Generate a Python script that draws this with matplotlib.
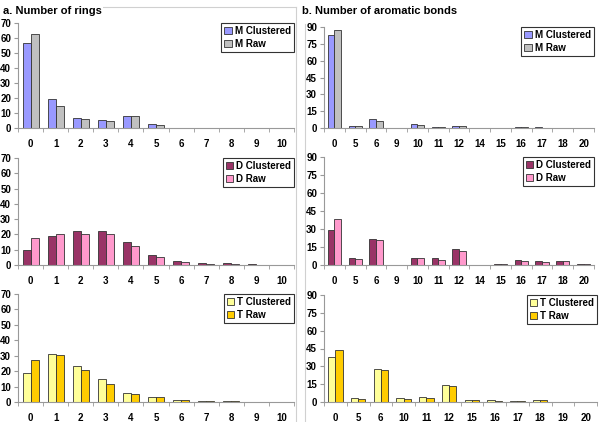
import numpy as np
import matplotlib
matplotlib.use("Agg")
import matplotlib.pyplot as plt

plt.rcParams['font.family'] = ['Liberation Sans', 'DejaVu Sans']

# a. number of rings
ring_cats = ['0', '1', '2', '3', '4', '5', '6', '7', '8', '9', '10']
m_ring_clu = [57, 19.3, 7, 5.6, 7.8, 2.7, 0.3, 0.3, 0, 0, 0]
m_ring_raw = [63, 15, 5.8, 5, 7.8, 2.3, 0.3, 0.3, 0, 0, 0]
d_ring_clu = [10, 19, 22, 22.3, 15, 6.5, 2.3, 1.2, 1.2, 0.5, 0]
d_ring_raw = [17.5, 20.5, 20, 20, 12.5, 5.5, 2, 0.8, 0.8, 0.3, 0]
t_ring_clu = [18.8, 30.9, 23.5, 14.9, 6, 3.5, 1.3, 0.5, 0.5, 0, 0]
t_ring_raw = [27.4, 30.5, 21, 11.7, 5, 3.2, 1.3, 0.5, 0.5, 0, 0]

# b. number of aromatic bonds
arom_cats_md = ['0', '5', '6', '9', '10', '11', '12', '14', '15', '16', '17', '18', '20']
arom_cats_t = ['0', '5', '6', '10', '11', '12', '15', '16', '17', '18', '19', '20']
m_arom_clu = [83, 2, 8, 0, 4, 0.7, 1.5, 0, 0, 0.5, 0.5, 0, 0]
m_arom_raw = [87, 1.5, 6, 0, 3, 0.7, 1.5, 0, 0, 0.5, 0.3, 0, 0]
d_arom_clu = [29.5, 6, 22, 0, 6, 5.5, 13.5, 0, 1, 4.5, 3.5, 3.5, 0.5]
d_arom_raw = [38.5, 5, 21, 0, 6, 4.5, 11.5, 0, 0.7, 3.5, 2.5, 3, 0.5]
t_arom_clu = [38, 3.5, 27.5, 3.5, 4.5, 14.5, 1.5, 1.5, 1, 2, 0, 0]
t_arom_raw = [43.5, 2.5, 26.5, 2.5, 3.5, 13.5, 1.5, 1, 1, 1.5, 0, 0]

W, H = 600, 422
fig = plt.figure(figsize=(6, 4.22), dpi=100)

def rect(x0, y0, x1, y1):
    return [x0 / W, 1 - y1 / H, (x1 - x0) / W, (y1 - y0) / H]

def panel(box, cats, clu, raw, names, colors, ymax, ystep):
    ax = fig.add_axes(rect(*box))
    x = np.arange(len(cats))
    w = 0.32
    ax.bar(x - w / 2, clu, w, color=colors[0], edgecolor='#333333', linewidth=0.6, label=names[0])
    ax.bar(x + w / 2, raw, w, color=colors[1], edgecolor='#333333', linewidth=0.6, label=names[1])
    ax.set_xlim(-0.5, len(cats) - 0.5)
    ax.set_ylim(0, ymax)
    ax.set_yticks(np.arange(0, ymax + 1, ystep))
    ax.set_xticks(x)
    ax.set_xticklabels(cats)
    ax.set_xticks(np.arange(-0.5, len(cats), 1), minor=True)
    ax.tick_params(axis='x', which='major', length=0, pad=8)
    ax.tick_params(axis='x', which='minor', length=3, color='#999999', direction='out')
    ax.tick_params(axis='y', length=3, color='#999999', pad=2)
    for lab in ax.get_xticklabels() + ax.get_yticklabels():
        lab.set_fontsize(7)
        lab.set_fontweight('bold')
    for s in ['top', 'right']:
        ax.spines[s].set_visible(False)
    for s in ['left', 'bottom']:
        ax.spines[s].set_color('#999999')
        ax.spines[s].set_linewidth(0.8)
    leg = ax.legend(loc='upper right', bbox_to_anchor=(1.0, 1.0), fancybox=False,
                    prop={'size': 7, 'weight': 'bold'}, handlelength=0.8, handleheight=0.8,
                    handletextpad=0.3, borderpad=0.3, labelspacing=0.3, borderaxespad=0)
    leg.get_frame().set_edgecolor('black')
    leg.get_frame().set_linewidth(0.8)
    return ax

panel((18, 23, 294, 128), ring_cats, m_ring_clu, m_ring_raw, ['M Clustered', 'M Raw'],
      ['#9999FF', '#C0C0C0'], 70, 10)
panel((18, 158, 294, 265), ring_cats, d_ring_clu, d_ring_raw, ['D Clustered', 'D Raw'],
      ['#993366', '#FF99CC'], 70, 10)
panel((18, 294, 294, 402), ring_cats, t_ring_clu, t_ring_raw, ['T Clustered', 'T Raw'],
      ['#FFFF99', '#FFCC00'], 70, 10)
panel((324, 27, 594, 128), arom_cats_md, m_arom_clu, m_arom_raw, ['M Clustered', 'M Raw'],
      ['#9999FF', '#C0C0C0'], 90, 15)
panel((324, 157, 594, 265), arom_cats_md, d_arom_clu, d_arom_raw, ['D Clustered', 'D Raw'],
      ['#993366', '#FF99CC'], 90, 15)
panel((324, 295, 597, 402), arom_cats_t, t_arom_clu, t_arom_raw, ['T Clustered', 'T Raw'],
      ['#FFFF99', '#FFCC00'], 90, 15)

# faint chart borders
fig.add_artist(plt.Line2D([3 / W, 296 / W], [1 - 7 / H, 1 - 7 / H], color='#d0d0d0', lw=0.8))
fig.add_artist(plt.Line2D([296 / W, 296 / W], [0, 1 - 7 / H], color='#d0d0d0', lw=0.8))
fig.add_artist(plt.Line2D([305 / W, 305 / W], [0, 1 - 24 / H], color='#d0d0d0', lw=0.8))

fig.text(3 / W, 1 - 11 / H, 'a. Number of rings', fontsize=8, fontweight='bold', va='center',
         bbox=dict(facecolor='white', edgecolor='none', pad=1))
fig.text(302 / W, 1 - 11 / H, 'b. Number of aromatic bonds', fontsize=8, fontweight='bold',
         va='center', bbox=dict(facecolor='white', edgecolor='none', pad=1))

fig.savefig('out.png', dpi=100)
